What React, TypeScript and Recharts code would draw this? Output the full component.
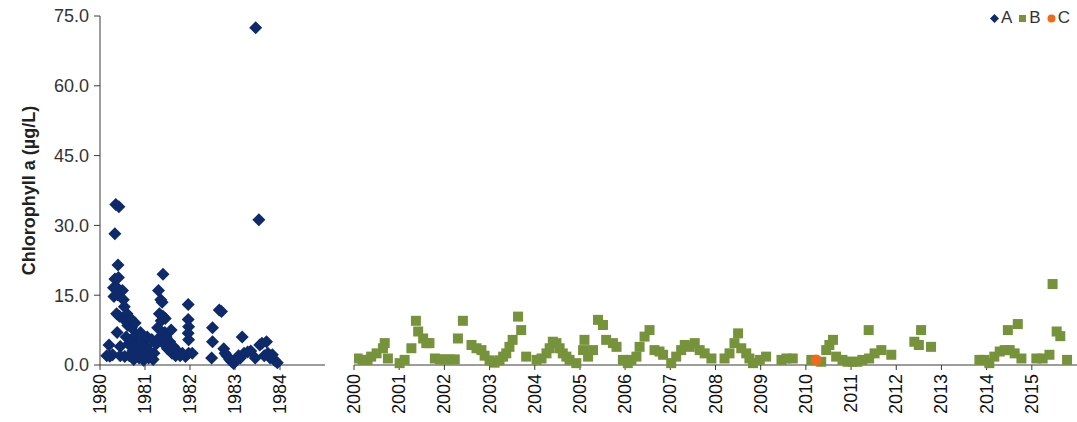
import React from 'react';
import { ScatterChart, Scatter, XAxis, YAxis, Legend } from 'recharts';

// [decimal year, chlorophyll a µg/L]
const seriesA: [number, number][] = [
  [1980.15, 2.0], [1980.2, 4.3], [1980.22, 1.9], [1980.28, 2.2], [1980.3, 16.6], [1980.31, 14.7],
  [1980.33, 28.2], [1980.33, 18.5], [1980.35, 34.5], [1980.36, 16.8], [1980.37, 11.0], [1980.38, 7.0],
  [1980.39, 15.1], [1980.4, 21.5], [1980.41, 18.8], [1980.42, 34.0], [1980.43, 10.5], [1980.45, 4.0],
  [1980.45, 2.0], [1980.5, 16.0], [1980.52, 14.0], [1980.54, 12.5], [1980.56, 9.5], [1980.55, 1.8],
  [1980.58, 6.0], [1980.6, 11.0], [1980.62, 8.5], [1980.63, 4.5], [1980.65, 2.0], [1980.68, 10.0],
  [1980.7, 8.0], [1980.72, 5.5], [1980.73, 3.0], [1980.75, 1.2], [1980.78, 9.0], [1980.8, 6.5],
  [1980.82, 4.0], [1980.85, 2.5], [1980.87, 1.5], [1980.9, 7.0], [1980.92, 5.0], [1980.95, 3.5],
  [1980.97, 1.0], [1981.0, 2.0], [1981.03, 4.0], [1981.05, 6.0], [1981.08, 1.5], [1981.1, 3.0],
  [1981.12, 2.0], [1981.15, 5.5], [1981.18, 1.2], [1981.2, 2.5], [1981.25, 4.5], [1981.28, 8.0],
  [1981.3, 16.0], [1981.32, 11.0], [1981.33, 6.0], [1981.35, 14.0], [1981.36, 9.5], [1981.38, 13.5],
  [1981.4, 19.5], [1981.4, 10.5], [1981.42, 4.5], [1981.44, 7.0], [1981.45, 10.0], [1981.47, 6.0],
  [1981.5, 3.5], [1981.55, 5.0], [1981.58, 7.5], [1981.6, 2.5], [1981.63, 4.0], [1981.68, 2.0],
  [1981.72, 3.0], [1981.78, 2.0], [1981.83, 2.5], [1981.9, 1.8], [1981.96, 13.0], [1981.96, 9.8],
  [1981.97, 8.2], [1981.96, 6.8], [1981.97, 5.4], [1981.97, 2.5], [1982.05, 2.5], [1982.48, 1.5],
  [1982.5, 5.0], [1982.5, 8.0], [1982.65, 11.8], [1982.7, 11.5], [1982.75, 3.5], [1982.78, 2.5],
  [1982.82, 2.0], [1982.88, 1.2], [1982.92, 0.8], [1982.97, 0.3], [1983.02, 1.0], [1983.08, 2.0],
  [1983.12, 1.5], [1983.16, 6.0], [1983.2, 2.5], [1983.28, 2.8], [1983.35, 3.0], [1983.45, 1.5],
  [1983.46, 72.5], [1983.53, 31.2], [1983.55, 4.3], [1983.6, 4.7], [1983.65, 2.0], [1983.7, 5.0],
  [1983.73, 2.5], [1983.78, 1.5], [1983.83, 2.2], [1983.88, 1.0], [1983.94, 0.5],
];

const seriesB: [number, number][] = [
  [2000.08, 1.4], [2000.19, 1.1], [2000.3, 1.1], [2000.38, 1.8], [2000.5, 2.5], [2000.64, 3.6],
  [2000.68, 4.7], [2000.75, 1.4], [2001.01, 0.4], [2001.12, 1.1], [2001.27, 3.6], [2001.37, 9.5],
  [2001.42, 7.2], [2001.53, 5.7], [2001.6, 4.7], [2001.67, 4.7], [2001.79, 1.4], [2001.9, 1.2],
  [2002.01, 1.2], [2002.12, 1.2], [2002.23, 1.2], [2002.3, 5.7], [2002.41, 9.5], [2002.6, 4.3],
  [2002.71, 3.6], [2002.82, 3.2], [2002.89, 2.0], [2003.0, 1.0], [2003.11, 0.5], [2003.22, 1.0],
  [2003.3, 1.8], [2003.37, 2.5], [2003.44, 3.9], [2003.51, 5.4], [2003.63, 10.4], [2003.7, 7.5],
  [2003.81, 1.8], [2004.04, 1.1], [2004.15, 1.4], [2004.26, 2.5], [2004.33, 3.6], [2004.4, 5.0],
  [2004.48, 4.7], [2004.55, 3.6], [2004.62, 2.5], [2004.7, 1.8], [2004.77, 1.1], [2004.92, 0.4],
  [2005.07, 3.2], [2005.1, 5.4], [2005.18, 1.8], [2005.29, 3.2], [2005.4, 9.7], [2005.51, 8.6],
  [2005.58, 5.4], [2005.73, 4.7], [2005.81, 3.9], [2005.95, 1.1], [2006.06, 0.4], [2006.14, 1.1],
  [2006.25, 1.8], [2006.32, 3.9], [2006.43, 6.1], [2006.54, 7.5], [2006.65, 3.2], [2006.76, 2.9],
  [2006.84, 2.2], [2007.02, 0.4], [2007.13, 1.8], [2007.24, 3.2], [2007.32, 4.3], [2007.43, 3.9],
  [2007.54, 4.7], [2007.65, 3.2], [2007.76, 2.5], [2007.91, 1.4], [2008.2, 1.4], [2008.31, 2.5],
  [2008.42, 4.7], [2008.5, 6.8], [2008.57, 3.6], [2008.68, 2.5], [2008.75, 1.4], [2008.83, 0.4],
  [2008.98, 1.1], [2009.12, 1.8], [2009.46, 1.1], [2009.57, 1.4], [2009.71, 1.4], [2010.12, 1.1],
  [2010.34, 0.7], [2010.45, 3.2], [2010.52, 4.3], [2010.6, 5.4], [2010.67, 1.8], [2010.81, 1.1],
  [2010.92, 0.7], [2011.03, 0.7], [2011.14, 0.7], [2011.25, 1.1], [2011.39, 7.5], [2011.4, 1.4],
  [2011.52, 2.5], [2011.67, 3.2], [2011.89, 2.2], [2012.4, 5.0], [2012.5, 4.3], [2012.55, 7.5],
  [2012.77, 3.9], [2013.84, 1.1], [2013.95, 1.1], [2014.06, 0.4], [2014.17, 1.8], [2014.29, 2.9],
  [2014.4, 3.2], [2014.47, 7.5], [2014.51, 3.2], [2014.62, 2.5], [2014.69, 8.8], [2014.77, 1.4],
  [2015.1, 1.4], [2015.24, 1.4], [2015.39, 2.2], [2015.46, 17.4], [2015.55, 7.2], [2015.63, 6.2],
  [2015.78, 1.1],
];

const seriesC: [number, number][] = [[2010.23, 1.1]];

const yTicks = [0, 15, 30, 45, 60, 75];
const earlyTicks = [1980, 1981, 1982, 1983, 1984];
const lateTicks = [2000, 2001, 2002, 2003, 2004, 2005, 2006, 2007, 2008, 2009, 2010, 2011, 2012, 2013, 2014, 2015];

const legendItems = [
  { key: 'A', color: '#0e2a6a', shape: 'diamond' },
  { key: 'B', color: '#76933c', shape: 'square' },
  { key: 'C', color: '#f06a1c', shape: 'circle' },
];

const toPoints = (s: [number, number][]) => s.map(([year, chl]) => ({ year, chl }));

const FONT = '"Liberation Sans", Arial, sans-serif';
const AXIS = '#3a3a3a';

const Diamond = ({ cx, cy, fill }: any) => {
  const r = 6.5;
  return <polygon points={`${cx},${cy - r} ${cx + r},${cy} ${cx},${cy + r} ${cx - r},${cy}`} fill={fill} />;
};
const Square = ({ cx, cy, fill }: any) => <rect x={cx - 5} y={cy - 5} width={10} height={10} fill={fill} />;
const Dot = ({ cx, cy, fill }: any) => <circle cx={cx} cy={cy} r={5.5} fill={fill} />;

const YearTick = ({ x, y, payload }: any) => (
  <text
    x={x}
    y={y}
    transform={`rotate(-90, ${x}, ${y})`}
    textAnchor="end"
    dominantBaseline="central"
    fontSize={18}
    fontFamily={FONT}
    fill="#111"
  >
    {payload.value}
  </text>
);

const LegendBox = () => (
  <div style={{ display: 'flex', alignItems: 'center', fontFamily: FONT, fontSize: 17, color: '#333' }}>
    {legendItems.map((it) => (
      <span key={it.key} style={{ display: 'flex', alignItems: 'center', marginRight: 6 }}>
        <svg width={9} height={9} style={{ marginRight: 2 }}>
          {it.shape === 'diamond' && <polygon points="4.5,0 9,4.5 4.5,9 0,4.5" fill={it.color} />}
          {it.shape === 'square' && <rect x={1} y={1} width={7} height={7} fill={it.color} />}
          {it.shape === 'circle' && <circle cx={4.5} cy={4.5} r={4} fill={it.color} />}
        </svg>
        {it.key}
      </span>
    ))}
  </div>
);

const App: React.FC = () => {
  return (
    <div style={{ position: 'absolute', left: 0, top: 0, width: 1077, height: 422, background: '#fff' }}>
      <div style={{ position: 'absolute', left: 0, top: 0 }}>
        <ScatterChart width={340} height={422} margin={{ top: 16, right: 15, left: 0, bottom: 7 }}>
          <XAxis
            type="number"
            dataKey="year"
            domain={[1980, 1985]}
            ticks={earlyTicks}
            interval={0}
            allowDataOverflow
            height={50}
            tick={<YearTick />}
            tickSize={5}
            tickMargin={4}
            stroke={AXIS}
          />
          <YAxis
            type="number"
            dataKey="chl"
            domain={[0, 75]}
            ticks={yTicks}
            interval={0}
            width={100}
            tickSize={6}
            tickMargin={5}
            stroke={AXIS}
            tickFormatter={(v: number) => v.toFixed(1)}
            tick={{ fontSize: 18, fontFamily: FONT, fill: '#333' }}
            label={({ viewBox }: any) => (
              <text
                x={viewBox.x + 29}
                y={viewBox.y + viewBox.height / 2}
                transform={`rotate(-90, ${viewBox.x + 29}, ${viewBox.y + viewBox.height / 2})`}
                textAnchor="middle"
                dominantBaseline="central"
                fontSize={18}
                fontWeight="bold"
                fontFamily={FONT}
                fill="#222"
              >
                Chlorophyll a (µg/L)
              </text>
            )}
          />
          <Scatter name="A" data={toPoints(seriesA)} fill="#0e2a6a" shape={<Diamond />} isAnimationActive={false} />
        </ScatterChart>
      </div>
      <div style={{ position: 'absolute', left: 330, top: 0 }}>
        <ScatterChart width={747} height={422} margin={{ top: 16, right: 0, left: 24, bottom: 7 }}>
          <XAxis
            type="number"
            dataKey="year"
            domain={[2000, 2016]}
            ticks={lateTicks}
            interval={0}
            allowDataOverflow
            height={50}
            tick={<YearTick />}
            tickSize={5}
            tickMargin={4}
            stroke={AXIS}
          />
          <YAxis type="number" dataKey="chl" domain={[0, 75]} hide />
          <Legend
            align="center"
            verticalAlign="middle"
            content={<LegendBox />}
            wrapperStyle={{ top: 8, left: 660, width: 'auto' }}
          />
          <Scatter name="B" data={toPoints(seriesB)} fill="#76933c" shape={<Square />} isAnimationActive={false} />
          <Scatter name="C" data={toPoints(seriesC)} fill="#f06a1c" shape={<Dot />} isAnimationActive={false} />
        </ScatterChart>
      </div>
    </div>
  );
};

export default App;
